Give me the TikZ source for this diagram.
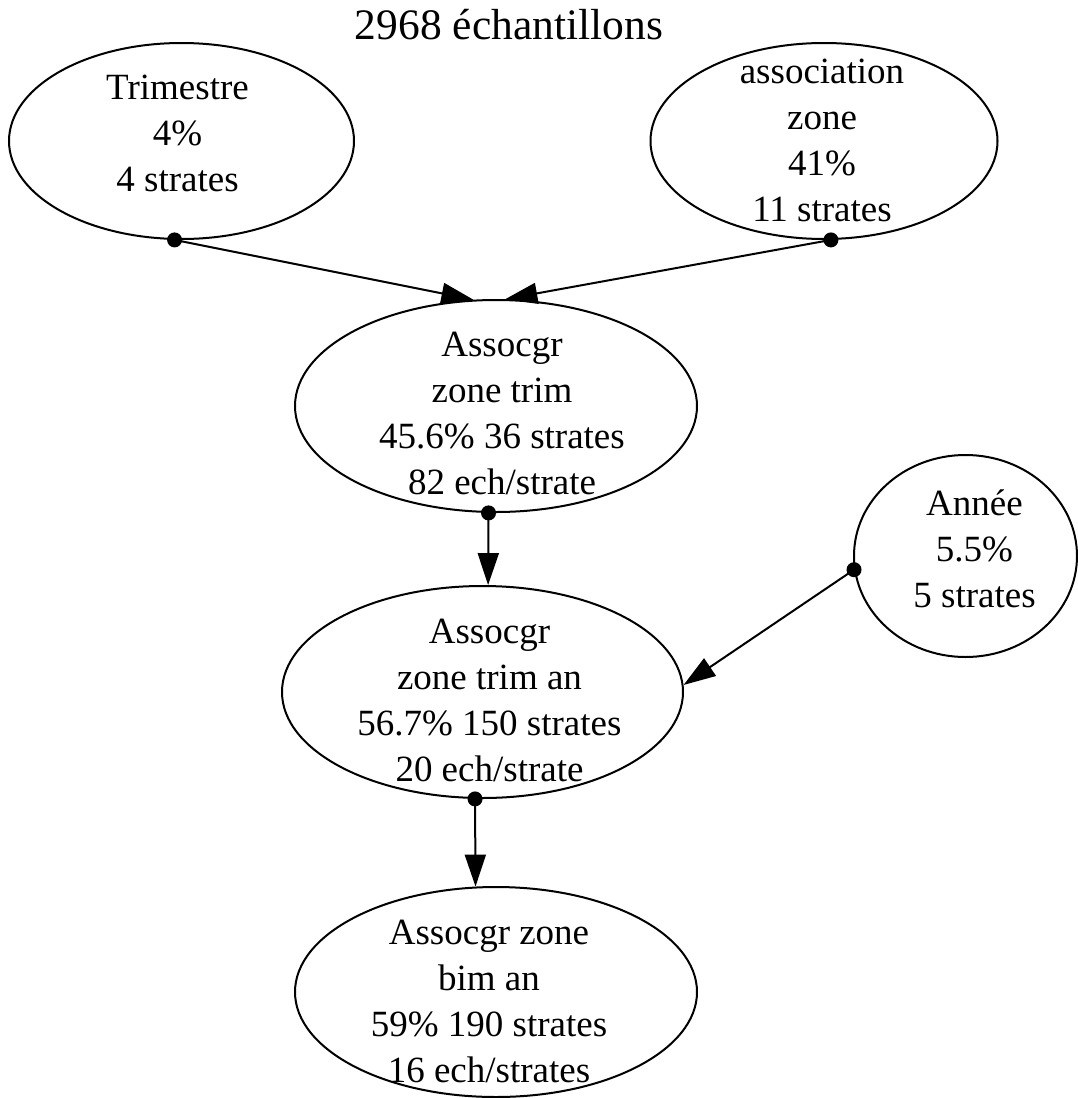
\documentclass[tikz,border=0pt]{standalone}
\usepackage{fontspec}
\setmainfont{Liberation Serif}
\usetikzlibrary{shapes.geometric,arrows.meta}
\tikzset{
  ell/.style={ellipse, draw, line width=2pt, inner sep=0pt},
  lbl/.style={align=center, font=\fontsize{37}{46.3}\selectfont, inner sep=0pt},
  edge/.style={line width=2pt, -{Triangle[length=32pt,width=21pt]}},
  dotend/.style={fill=black},
}
\newcommand{\tstrut}{\rule{0pt}{30pt}}
\newcommand{\bstrut}{\rule[-12pt]{0pt}{12pt}}
\begin{document}
\begin{tikzpicture}[x=1pt,y=-1pt]
\useasboundingbox (0,0) rectangle (1077,1098);

\node[font=\fontsize{43.5}{52}\selectfont, anchor=base, inner sep=0pt] (title) at (509,39) {2968 échantillons};

\node[ell, minimum width=345pt, minimum height=196pt,
  label={[lbl,xshift=-4pt,yshift=4.7pt]center:\tstrut Trimestre\\4\%\\4 strates\bstrut}] (trim) at (181.5,141) {};

\node[ell, minimum width=347pt, minimum height=196pt,
  label={[lbl,xshift=-2pt,yshift=-2.5pt]center:\tstrut association\\zone\\41\%\\11 strates\bstrut}] (assoc) at (824,141) {};

\node[ell, minimum width=402pt, minimum height=212pt,
  label={[lbl,xshift=6pt,yshift=-10.5pt]center:\tstrut Assocgr\\zone trim\\45.6\% 36 strates\\82 ech/strate\bstrut}] (zt) at (496,406) {};

\node[ell, minimum width=223pt, minimum height=202pt,
  label={[lbl,xshift=9pt,yshift=3.7pt]center:\tstrut Année\\5.5\%\\5 strates\bstrut}] (annee) at (965.5,556) {};

\node[ell, minimum width=401pt, minimum height=212pt,
  label={[lbl,xshift=7pt,yshift=-11.5pt]center:\tstrut Assocgr\\zone trim an\\56.7\% 150 strates\\20 ech/strate\bstrut}] (zta) at (482.5,692) {};

\node[ell, minimum width=402pt, minimum height=210pt,
  label={[lbl,xshift=-7pt,yshift=-12.5pt]center:\tstrut Assocgr zone\\bim an\\59\% 190 strates\\16 ech/strates\bstrut}] (bim) at (496,992) {};

\coordinate (d1) at (trim.266);
\coordinate (d2) at (assoc.274);
\coordinate (d3) at (zt.266);
\coordinate (d4) at (annee.187);
\coordinate (d5) at (zta.266);

\draw[edge] (d1) -- (zt.102);
\draw[edge] (d2) -- (zt.85);
\draw[edge] (d3) -- (zta.87);
\draw[edge] (d4) -- (zta.2);
\draw[edge] (d5) -- (bim.101);

\foreach \d in {d1,d2,d3,d4,d5} \fill[dotend] (\d) circle[radius=7.5pt];
\end{tikzpicture}
\end{document}
